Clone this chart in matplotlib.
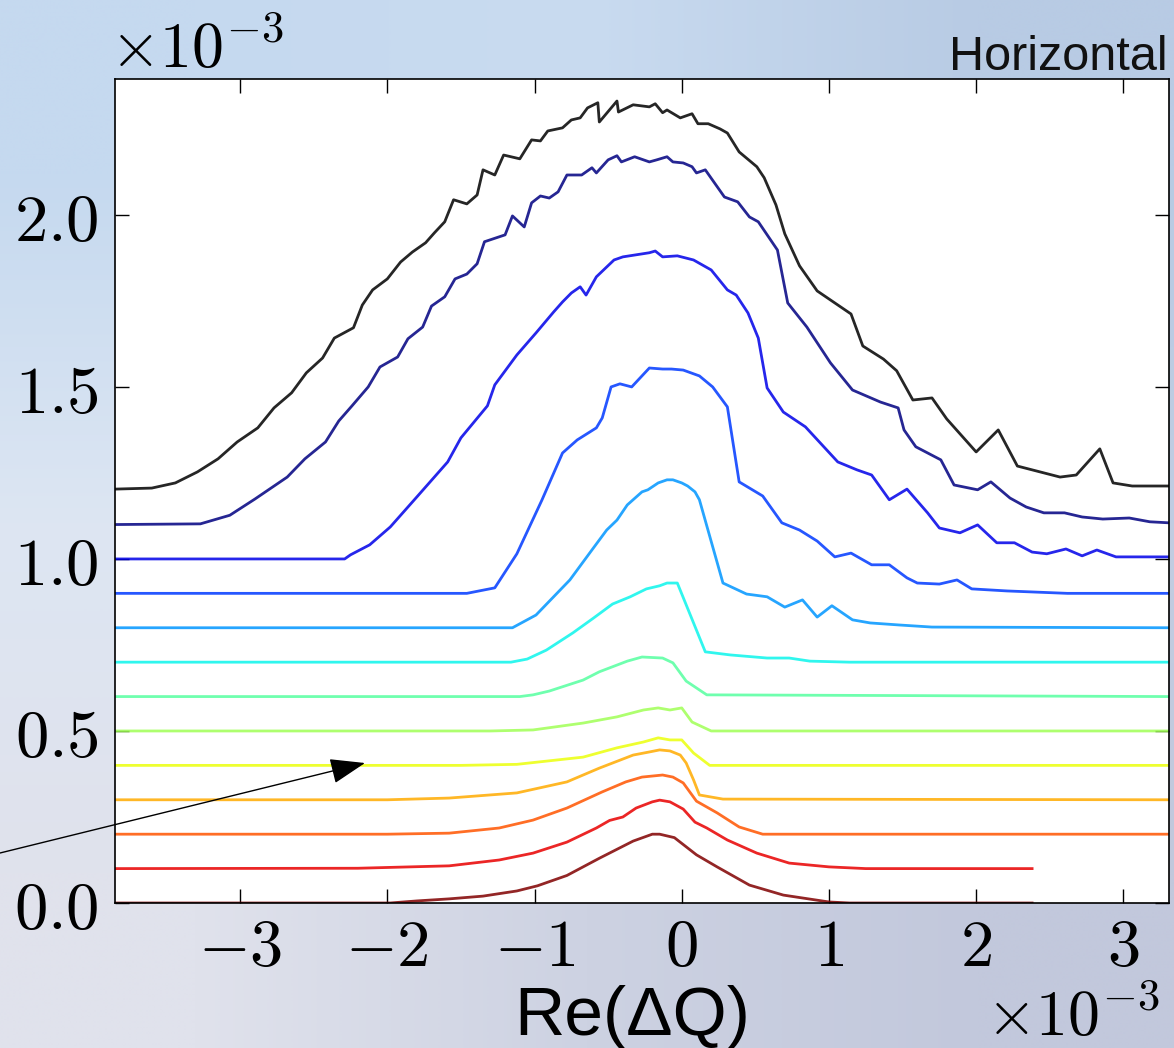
import matplotlib
matplotlib.use("Agg")
import matplotlib.pyplot as plt
import numpy as np
from matplotlib.colors import to_rgb

# stacked tune-shift spectra, values in units of 1e-3
x0 = [-3.85, -1.98, -1.80, -1.58, -1.35, -1.12, -0.98, -0.78, -0.56, -0.33, -0.20, -0.15, -0.05, 0.10, 0.24, 0.46, 0.69, 1.00, 1.14, 2.38]
y0 = [0, 0, 0.006, 0.012, 0.02, 0.035, 0.05, 0.08, 0.13, 0.18, 0.20, 0.20, 0.19, 0.14, 0.105, 0.052, 0.023, 0.003, 0, 0]

x1 = [-3.85, -2.2, -1.58, -1.24, -1.01, -0.78, -0.58, -0.49, -0.40, -0.31, -0.20, -0.15, -0.08, 0.01, 0.09, 0.17, 0.31, 0.51, 0.73, 1.00, 1.25, 2.38]
y1 = [0.1, 0.101, 0.108, 0.125, 0.145, 0.177, 0.218, 0.24, 0.25, 0.276, 0.294, 0.299, 0.294, 0.273, 0.235, 0.218, 0.183, 0.145, 0.116, 0.105, 0.1, 0.1]

x2 = [-3.85, -2.0, -1.58, -1.24, -1.01, -0.78, -0.54, -0.38, -0.27, -0.13, -0.06, 0.01, 0.10, 0.24, 0.39, 0.55, 3.31]
y2 = [0.2, 0.2, 0.203, 0.218, 0.241, 0.276, 0.323, 0.352, 0.366, 0.372, 0.366, 0.349, 0.296, 0.262, 0.221, 0.2, 0.2]

x3 = [-3.85, -2.0, -1.58, -1.12, -0.78, -0.56, -0.33, -0.22, -0.15, -0.08, -0.01, 0.03, 0.08, 0.12, 0.28, 3.31]
y3 = [0.3, 0.3, 0.305, 0.32, 0.352, 0.392, 0.43, 0.439, 0.445, 0.442, 0.43, 0.407, 0.358, 0.314, 0.302, 0.3]

x4 = [-3.85, -1.5, -1.12, -0.67, -0.44, -0.26, -0.16, -0.08, 0.0, 0.08, 0.19, 3.31]
y4 = [0.4, 0.4, 0.403, 0.424, 0.451, 0.468, 0.48, 0.474, 0.474, 0.436, 0.4, 0.4]

x5 = [-3.85, -1.3, -1.01, -0.67, -0.44, -0.26, -0.16, -0.08, 0.0, 0.07, 0.20, 3.31]
y5 = [0.5, 0.5, 0.503, 0.523, 0.541, 0.561, 0.567, 0.561, 0.567, 0.526, 0.5, 0.5]

x6 = [-3.85, -1.1, -1.01, -0.90, -0.67, -0.56, -0.37, -0.27, -0.13, -0.06, 0.03, 0.17, 3.31]
y6 = [0.6, 0.6, 0.605, 0.616, 0.648, 0.672, 0.703, 0.715, 0.712, 0.698, 0.645, 0.605, 0.6]

x7 = [-3.85, -1.16, -1.05, -0.92, -0.74, -0.60, -0.47, -0.35, -0.24, -0.15, -0.10, -0.03, 0.16, 0.33, 0.58, 0.73, 0.87, 1.14, 3.31]
y7 = [0.7, 0.7, 0.709, 0.735, 0.785, 0.828, 0.869, 0.890, 0.913, 0.922, 0.930, 0.930, 0.730, 0.721, 0.712, 0.712, 0.703, 0.7, 0.7]

x8 = [-3.85, -1.15, -0.99, -0.76, -0.60, -0.51, -0.44, -0.37, -0.27, -0.23, -0.16, -0.10, -0.06, 0.0, 0.04, 0.09, 0.12, 0.28, 0.44, 0.58, 0.70, 0.82, 0.92, 1.02, 1.16, 1.28, 1.48, 1.70, 3.31]
y8 = [0.8, 0.8, 0.837, 0.939, 1.032, 1.084, 1.113, 1.157, 1.195, 1.201, 1.221, 1.230, 1.230, 1.221, 1.212, 1.195, 1.172, 0.930, 0.898, 0.890, 0.860, 0.881, 0.831, 0.864, 0.823, 0.814, 0.808, 0.802, 0.8]

x9 = [-3.85, -1.46, -1.27, -1.12, -0.95, -0.81, -0.71, -0.58, -0.54, -0.48, -0.42, -0.34, -0.22, -0.13, -0.07, 0.01, 0.12, 0.21, 0.31, 0.39, 0.55, 0.68, 0.80, 0.92, 1.04, 1.15, 1.29, 1.41, 1.53, 1.60, 1.75, 1.87, 1.97, 2.21, 2.62, 3.31]
y9 = [0.9, 0.9, 0.916, 1.015, 1.171, 1.308, 1.346, 1.381, 1.410, 1.500, 1.509, 1.500, 1.555, 1.552, 1.552, 1.549, 1.532, 1.500, 1.442, 1.224, 1.183, 1.105, 1.084, 1.052, 1.006, 1.017, 0.983, 0.983, 0.945, 0.930, 0.927, 0.939, 0.913, 0.907, 0.9, 0.9]

x10 = [-3.85, -2.29, -2.25, -2.12, -1.98, -1.80, -1.59, -1.50, -1.32, -1.27, -1.12, -0.99, -0.87, -0.81, -0.75, -0.69, -0.65, -0.58, -0.46, -0.40, -0.22, -0.18, -0.13, -0.03, 0.08, 0.20, 0.31, 0.37, 0.45, 0.52, 0.58, 0.69, 0.84, 1.06, 1.19, 1.29, 1.41, 1.53, 1.67, 1.75, 1.89, 2.01, 2.14, 2.26, 2.38, 2.48, 2.61, 2.72, 2.82, 2.95, 3.31]
y10 = [1.0, 1.0, 1.012, 1.041, 1.093, 1.180, 1.282, 1.352, 1.445, 1.506, 1.593, 1.657, 1.718, 1.747, 1.773, 1.791, 1.767, 1.820, 1.869, 1.878, 1.890, 1.895, 1.878, 1.881, 1.869, 1.840, 1.782, 1.767, 1.715, 1.642, 1.497, 1.427, 1.384, 1.282, 1.259, 1.244, 1.172, 1.203, 1.134, 1.090, 1.076, 1.099, 1.047, 1.047, 1.020, 1.015, 1.029, 1.009, 1.026, 1.006, 1.006]

x11 = [-3.85, -3.27, -3.07, -2.90, -2.68, -2.56, -2.42, -2.33, -2.24, -2.13, -2.05, -1.93, -1.86, -1.76, -1.70, -1.61, -1.54, -1.46, -1.39, -1.34, -1.20, -1.15, -1.07, -1.02, -0.96, -0.90, -0.84, -0.78, -0.68, -0.61, -0.58, -0.50, -0.44, -0.41, -0.32, -0.22, -0.17, -0.10, -0.06, 0.01, 0.07, 0.10, 0.16, 0.29, 0.38, 0.46, 0.52, 0.65, 0.72, 0.85, 1.01, 1.16, 1.35, 1.47, 1.51, 1.59, 1.76, 1.85, 2.01, 2.10, 2.23, 2.34, 2.46, 2.60, 2.72, 2.86, 3.04, 3.18, 3.31]
y11 = [1.1, 1.102, 1.127, 1.174, 1.238, 1.291, 1.340, 1.401, 1.445, 1.500, 1.558, 1.587, 1.640, 1.674, 1.735, 1.762, 1.814, 1.828, 1.858, 1.922, 1.942, 1.997, 1.965, 2.035, 2.055, 2.049, 2.067, 2.116, 2.116, 2.137, 2.122, 2.160, 2.172, 2.154, 2.169, 2.154, 2.160, 2.169, 2.154, 2.151, 2.140, 2.122, 2.131, 2.052, 2.038, 1.994, 1.980, 1.898, 1.744, 1.674, 1.570, 1.491, 1.456, 1.439, 1.375, 1.326, 1.288, 1.215, 1.201, 1.224, 1.177, 1.151, 1.134, 1.134, 1.122, 1.116, 1.119, 1.108, 1.105]

x12 = [-3.85, -3.60, -3.44, -3.29, -3.15, -3.02, -2.88, -2.77, -2.65, -2.55, -2.44, -2.36, -2.23, -2.17, -2.10, -2.00, -1.91, -1.83, -1.74, -1.68, -1.61, -1.55, -1.46, -1.39, -1.35, -1.27, -1.21, -1.10, -1.02, -0.96, -0.91, -0.81, -0.75, -0.69, -0.64, -0.57, -0.56, -0.44, -0.43, -0.33, -0.22, -0.18, -0.13, -0.10, -0.01, 0.07, 0.11, 0.18, 0.26, 0.31, 0.39, 0.51, 0.56, 0.64, 0.70, 0.80, 0.92, 1.15, 1.23, 1.37, 1.46, 1.57, 1.70, 1.80, 2.00, 2.15, 2.28, 2.57, 2.68, 2.84, 2.93, 3.06, 3.31]
y12 = [1.203, 1.206, 1.221, 1.253, 1.291, 1.340, 1.381, 1.439, 1.483, 1.541, 1.584, 1.642, 1.672, 1.738, 1.782, 1.814, 1.863, 1.892, 1.919, 1.948, 1.980, 2.044, 2.032, 2.058, 2.131, 2.116, 2.174, 2.163, 2.218, 2.215, 2.244, 2.253, 2.276, 2.282, 2.311, 2.326, 2.270, 2.331, 2.299, 2.320, 2.314, 2.323, 2.297, 2.305, 2.282, 2.294, 2.265, 2.265, 2.250, 2.238, 2.183, 2.140, 2.108, 2.029, 1.945, 1.852, 1.779, 1.712, 1.619, 1.581, 1.547, 1.462, 1.468, 1.407, 1.311, 1.375, 1.270, 1.238, 1.244, 1.320, 1.221, 1.212, 1.212]

xs = [x0, x1, x2, x3, x4, x5, x6, x7, x8, x9, x10, x11, x12]
ys = [y0, y1, y2, y3, y4, y5, y6, y7, y8, y9, y10, y11, y12]

x_ticks = [-3, -2, -1, 0, 1, 2, 3]
y_ticks = [0.0, 0.5, 1.0, 1.5, 2.0]

plt.rcParams["mathtext.fontset"] = "cm"
plt.rcParams["mathtext.default"] = "rm"

W, H = 1174, 1048
fig = plt.figure(figsize=(W / 100, H / 100), dpi=100)

# slide background (soft blue gradient)
bg = fig.add_axes([0, 0, 1, 1], zorder=-10)
corners = [["#c5d9ef", "#c9dbf0", "#b8cbe4"],
           ["#dde6f3", "#d5e0f0", "#c0cde2"],
           ["#e0e2ec", "#cdd2e2", "#c2c8dc"]]
img = np.array([[to_rgb(c) for c in row] for row in corners])
bg.imshow(img, aspect="auto", interpolation="bilinear", extent=[0, 1, 0, 1])
bg.axis("off")

ax = fig.add_axes([115 / W, 1 - 903 / H, (1169 - 115) / W, (903 - 79) / H])
ax.set_facecolor("white")

colors = list(plt.cm.jet(np.linspace(1, 0, 12))) + ["black"]
for xv, yv, c in zip(xs, ys, colors):
    ax.plot(np.array(xv) * 1e-3, np.array(yv) * 1e-3, color=c, lw=2.0, alpha=0.85)

ax.set_xlim(-3.85e-3, 3.31e-3)
ax.set_ylim(0, 2.395e-3)
ax.set_xticks([t * 1e-3 for t in x_ticks])
ax.set_yticks([t * 1e-3 for t in y_ticks])
ax.xaxis.set_major_formatter(plt.FuncFormatter(lambda v, _: r"$%d$" % round(v * 1e3)))
ax.yaxis.set_major_formatter(plt.FuncFormatter(lambda v, _: r"$%.1f$" % (v * 1e3)))
ax.tick_params(direction="in", top=True, right=True, length=10, width=1,
               labelsize=48)
ax.tick_params(axis="x", pad=8)
ax.tick_params(axis="y", pad=12)
for s in ax.spines.values():
    s.set_linewidth(1.2)

# scale factors
ax.text(-0.005, 1.013, r"$\times10^{-3}$", transform=ax.transAxes,
        ha="left", va="baseline", fontsize=46)
ax.text(0.9915, -0.162, r"$\times10^{-3}$", transform=ax.transAxes,
        ha="right", va="baseline", fontsize=46)

ax.set_xlabel("Re(\u0394Q)", fontsize=50, family="Liberation Sans", va="baseline")
ax.xaxis.set_label_coords(0.4905, -0.160)

fig.text(1168 / W, 1 - 70 / H, "Horizontal", ha="right", va="baseline",
         fontsize=35, family="Liberation Sans", color="#111111")

ax.annotate("", xy=(365 / W, 1 - 763 / H), xycoords="figure fraction",
            xytext=(0, 1 - 853 / H), textcoords="figure fraction",
            arrowprops=dict(arrowstyle="-|>,head_length=1.1,head_width=0.4",
                            mutation_scale=20, lw=1, color="black",
                            shrinkA=0, shrinkB=0))

fig.savefig("out.png", dpi=100)
